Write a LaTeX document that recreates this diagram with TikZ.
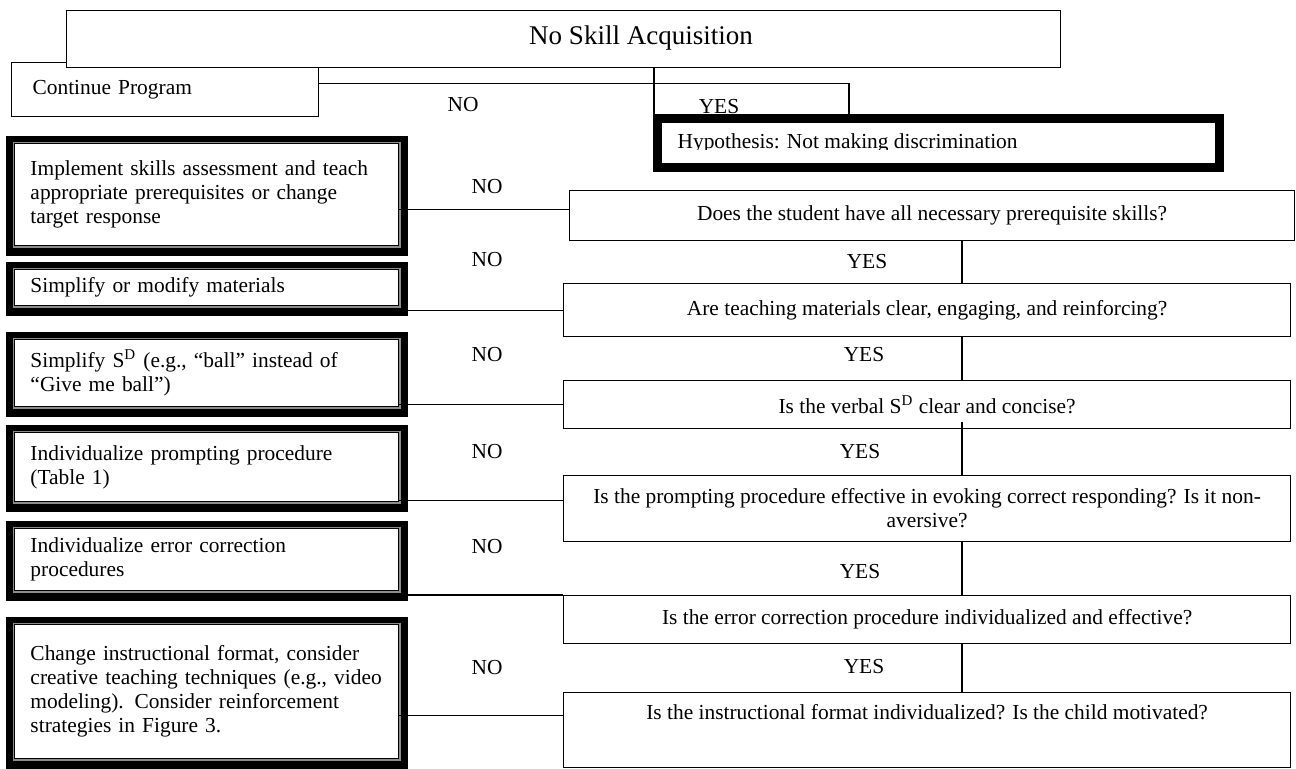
\documentclass[tikz,border=0pt]{standalone}
\usepackage{fontspec}
\setmainfont{Liberation Serif}
\usepackage{tikz}
\usetikzlibrary{backgrounds}
\newcommand{\flowtext}{\fontsize{10.7}{12}\selectfont}
\newcommand{\flowtitle}{\fontsize{13.5}{16}\selectfont}
\tikzset{
  qbox/.style={draw, fill=white, anchor=north west, inner sep=0pt, align=center, minimum width=363.5pt},
  actbox/.style={draw, line width=0.5pt, fill=white, anchor=north west, inner xsep=8pt, inner ysep=0pt,
    text width=176pt, align=left, preaction={draw=black!45, line width=2pt}},
  hypbox/.style={draw, line width=4.25pt, fill=white, anchor=north west, minimum width=281pt, minimum height=24.5pt},
  answer/.style={inner sep=0pt}
}

\begin{document}
\begin{tikzpicture}[x=0.5pt, y=-0.5pt, line width=0.6pt, font=\flowtext]
		\useasboundingbox (0,0) rectangle (1296,768);
		\coordinate (trunk) at (654,0);
		\coordinate (yesdrop) at (849,0);
		\coordinate (spine) at (962,0);
		\node[draw, fill=white, anchor=north west, minimum width=153.5pt, minimum height=27pt,
			inner xsep=10.5pt, text width=132.5pt, align=left] (cont) at (11,62) {Continue Program};
		\node[draw, fill=white, anchor=north west, minimum width=497pt, minimum height=28.5pt] (nsa) at (66,10) {};
		\node[font=\flowtitle, anchor=base] (ttl) at (641,44) {No Skill Acquisition};
		\node[answer] (no0) at (463,105) {NO};
		\node[answer, anchor=base] (yes0) at (719,113) {YES};
		\node[hypbox] (hyp) at (653,114) {};
		\begin{scope}
			\clip (hyp.north west) rectangle (hyp.east |- 0,149);
			\node[anchor=base west, inner sep=0pt] (hyptxt) at (677,148) {Hypothesis: Not making discrimination};
		\end{scope}
		\draw (nsa.south -| trunk) -- (hyp.north -| trunk);
		\draw ([yshift=3pt]cont.east) -| (hyp.north -| yesdrop);
		\node[actbox, minimum height=51pt] (impl) at (14,143) {Implement skills assessment and teach\\appropriate prerequisites or change\\target response};
		\node[actbox, minimum height=18pt] (simp) at (14,269) {Simplify or modify materials};
		\node[actbox, minimum height=33.5pt] (sd) at (14,339) {Simplify S\textsuperscript{D} (e.g., “ball” instead of\\“Give me ball”)};
		\node[actbox, minimum height=34.5pt] (prm) at (14,432) {Individualize prompting procedure\\(Table 1)};
		\node[actbox, minimum height=31pt] (err) at (14,528) {Individualize error correction\\procedures};
		\node[actbox, minimum height=67pt] (chg) at (14,624) {Change instructional format, consider\\creative teaching techniques (e.g., video\\modeling). Consider reinforcement\\strategies in Figure 3.};
		\begin{scope}[on background layer]
			\fill ([shift={(-4pt,3.5pt)}]impl.north west) rectangle ([shift={(4.5pt,-5pt)}]impl.south east);
			\fill ([shift={(-4pt,3.5pt)}]simp.north west) rectangle ([shift={(4.5pt,-5pt)}]simp.south east);
			\fill ([shift={(-4pt,3.5pt)}]sd.north west) rectangle ([shift={(4.5pt,-5pt)}]sd.south east);
			\fill ([shift={(-4pt,3.5pt)}]prm.north west) rectangle ([shift={(4.5pt,-5pt)}]prm.south east);
			\fill ([shift={(-4pt,3.5pt)}]err.north west) rectangle ([shift={(4.5pt,-5pt)}]err.south east);
			\fill ([shift={(-4pt,3.5pt)}]chg.north west) rectangle ([shift={(4.5pt,-5pt)}]chg.south east);
		\end{scope}
		\node[qbox, minimum width=362.5pt, minimum height=25pt] (does) at (569,190) {Does the student have all necessary prerequisite skills?};
		\node[qbox, minimum height=26.5pt] (mat) at (563,283) {Are teaching materials clear, engaging, and reinforcing?};
		\node[qbox, minimum height=24pt] (verbal) at (563,380) {Is the verbal S\textsuperscript{D} clear and concise?};
		\node[qbox, minimum height=33pt] (promptq) at (563,475) {Is the prompting procedure effective in evoking correct responding? Is it non-\\aversive?};
		\node[qbox, minimum height=24pt] (errq) at (563,595) {Is the error correction procedure individualized and effective?};
		\node[qbox, minimum height=37.5pt, text depth=18.5pt] (instr) at (563,692) {Is the instructional format individualized? Is the child motivated?};
		\node[answer] (no1) at (487,187) {NO};
		\node[answer] (no2) at (487,260) {NO};
		\node[answer] (no3) at (487,355) {NO};
		\node[answer] (no4) at (487,452) {NO};
		\node[answer] (no5) at (487,547) {NO};
		\node[answer] (no6) at (487,668) {NO};
		\node[answer] (yes1) at (867,262) {YES};
		\node[answer] (yes2) at (864,355) {YES};
		\node[answer] (yes3) at (860,452) {YES};
		\node[answer] (yes4) at (860,572) {YES};
		\node[answer] (yes5) at (864,667) {YES};
		\draw ([yshift=3pt]does.west -| impl.east) -- ([yshift=3pt]does.west);
		\draw (mat.west -| simp.east) -- (mat.west);
		\draw (verbal.west -| sd.east) -- (verbal.west);
		\draw ([yshift=4pt]promptq.west -| prm.east) -- ([yshift=4pt]promptq.west);
		\draw (errq.north west -| err.east) -- (errq.north west);
		\draw ([yshift=7.25pt]instr.west -| chg.east) -- ([yshift=7.25pt]instr.west);
		\draw (does.south -| spine) -- (mat.north -| spine);
		\draw (mat.south -| spine) -- (verbal.north -| spine);
		\draw (verbal.south -| spine) ++(0,-7) -- (promptq.north -| spine);
		\draw (promptq.south -| spine) -- (errq.north -| spine);
		\draw (errq.south -| spine) -- (instr.north -| spine);
	\end{tikzpicture}
\end{document}
